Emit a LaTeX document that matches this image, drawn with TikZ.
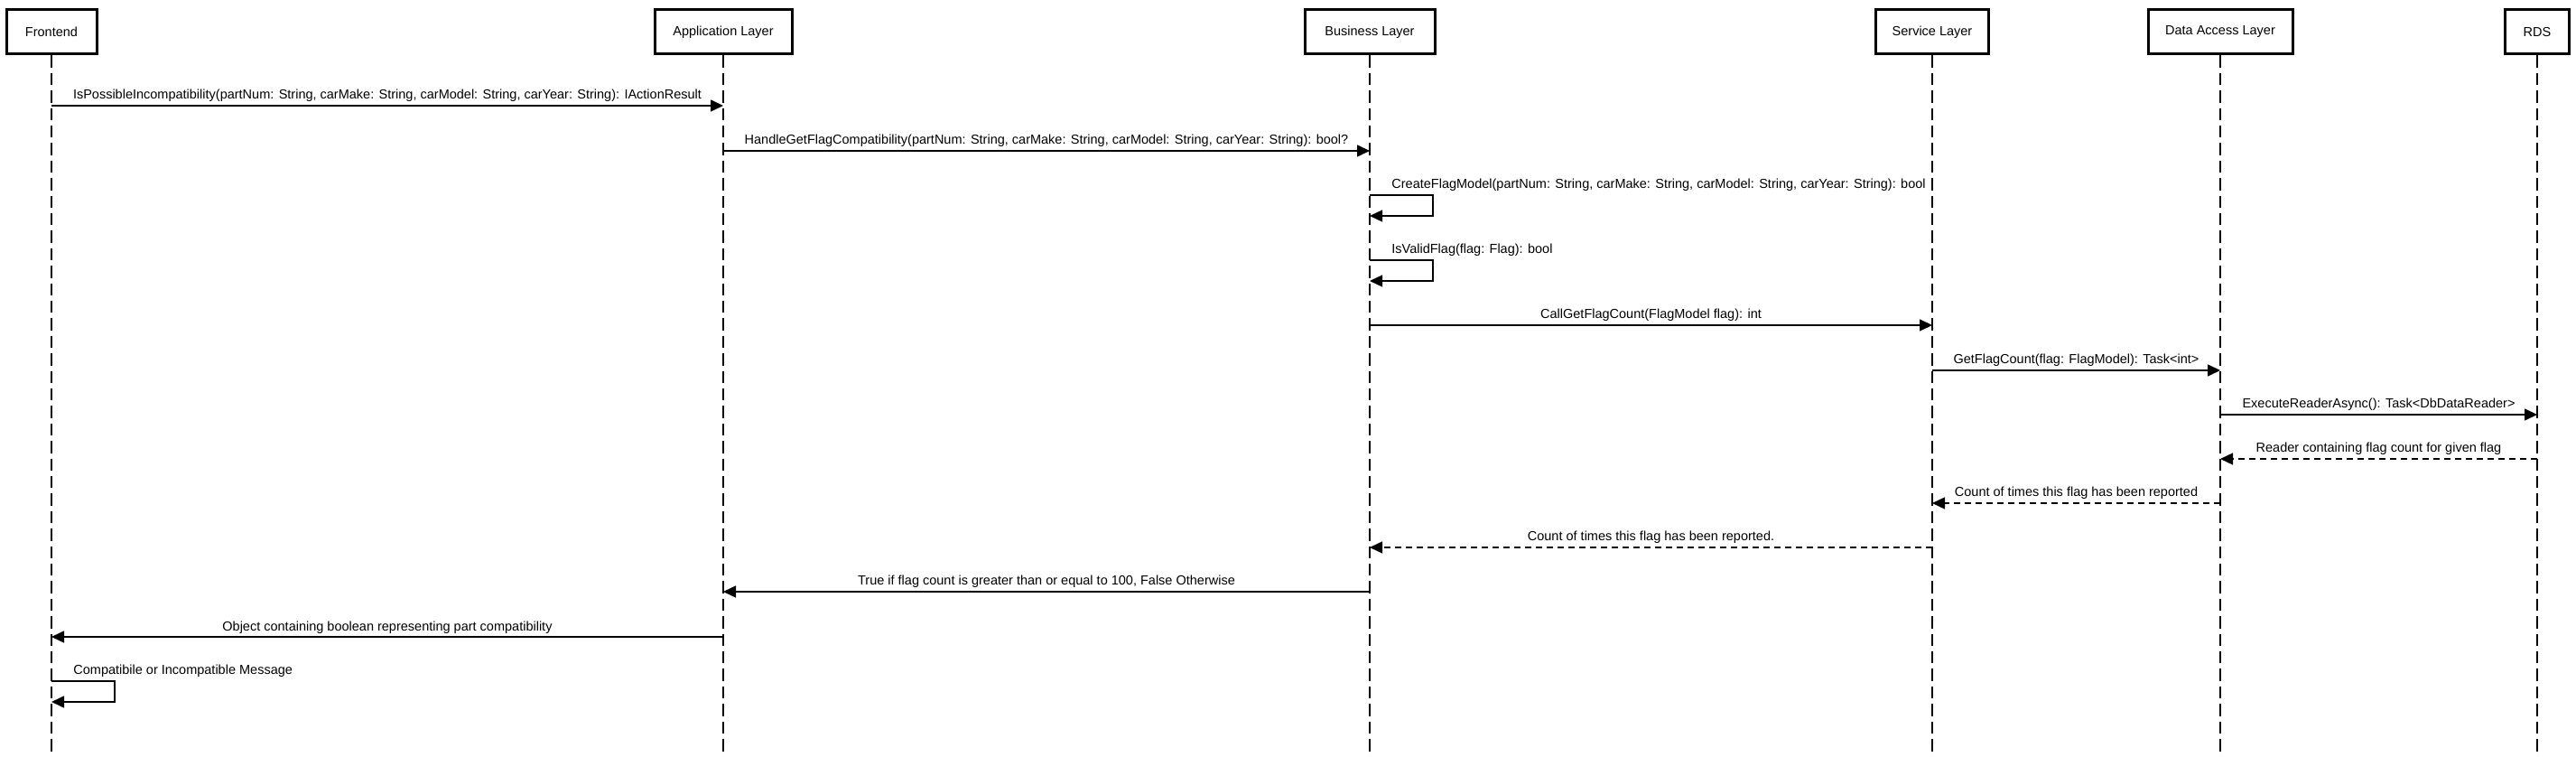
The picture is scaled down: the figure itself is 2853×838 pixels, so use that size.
\documentclass[tikz,border=0pt]{standalone}
\usepackage{fontspec}
\setmainfont{Liberation Sans}
\usetikzlibrary{arrows.meta}
\begin{document}
\begin{tikzpicture}[x=0.5pt,y=-0.5pt,
  txt/.style={font=\fontsize{7.25pt}{8.7pt}\selectfont},
  part/.style={txt, draw, line width=1.5pt, minimum height=24.5pt, inner sep=0pt, fill=white},
  lifeline/.style={line width=0.85pt, dash pattern=on 6.7pt off 3pt},
  msg/.style={line width=0.75pt, -{Triangle[length=7pt,width=6.5pt]}},
  ret/.style={msg, dash pattern=on 3.6pt off 2.4pt},
  lbl/.style={txt, inner sep=0pt},
]
\fill[white] (0,0) rectangle (2853,838);
\useasboundingbox (0,0) rectangle (2853,838);

% participants
\node[part, minimum width=50pt] (fe)  at (57,35.5)   {Frontend};
\node[part, minimum width=76pt] (app) at (801,35.5)  {Application Layer};
\node[part, minimum width=72pt] (bus) at (1517,35.5) {Business Layer};
\node[part, minimum width=62.5pt] (svc) at (2140,35.5) {Service Layer};
\node[part, minimum width=80pt] (dal) at (2459,35.5) {Data Access Layer};
\node[part, minimum width=35.5pt] (rds) at (2810,35.5) {RDS};

% levels
\coordinate (bot) at (0,838);
\coordinate (y1) at (0,117);
\coordinate (y2) at (0,167);
\coordinate (s1t) at (0,216);
\coordinate (s1b) at (0,239);
\coordinate (s2t) at (0,288);
\coordinate (s2b) at (0,311);
\coordinate (y5) at (0,360);
\coordinate (y6) at (0,410);
\coordinate (y7) at (0,459);
\coordinate (y8) at (0,508);
\coordinate (y9) at (0,557);
\coordinate (y10) at (0,606);
\coordinate (y11) at (0,655);
\coordinate (y12) at (0,705);
\coordinate (s3t) at (0,754);
\coordinate (s3b) at (0,777);

% lifelines
\foreach \p in {fe,app,bus,svc,dal,rds}
  \draw[lifeline] (\p.south) -- (\p.center |- bot);

% messages
\draw[msg] (fe.center |- y1) -- (app.center |- y1)
  node[lbl, midway, anchor=base, yshift=3.5pt] {IsPossibleIncompatibility(partNum: String, carMake: String, carModel: String, carYear: String): IActionResult};
\draw[msg] (app.center |- y2) -- (bus.center |- y2)
  node[lbl, midway, anchor=base, yshift=3.5pt] {HandleGetFlagCompatibility(partNum: String, carMake: String, carModel: String, carYear: String): bool?};
\draw[msg] (bus.center |- s1t) -- ++(70,0) |- (bus.center |- s1b);
\node[lbl, anchor=base west, xshift=12pt, yshift=3.5pt] (l3) at (bus.center |- s1t) {CreateFlagModel(partNum: String, carMake: String, carModel: String, carYear: String): bool};
\draw[msg] (bus.center |- s2t) -- ++(70,0) |- (bus.center |- s2b);
\node[lbl, anchor=base west, xshift=12pt, yshift=3.5pt] (l4) at (bus.center |- s2t) {IsValidFlag(flag: Flag): bool};
\draw[msg] (bus.center |- y5) -- (svc.center |- y5)
  node[lbl, midway, anchor=base, yshift=3.5pt] {CallGetFlagCount(FlagModel flag): int};
\draw[msg] (svc.center |- y6) -- (dal.center |- y6)
  node[lbl, midway, anchor=base, yshift=3.5pt] {GetFlagCount(flag: FlagModel): Task<int>};
\draw[msg] (dal.center |- y7) -- (rds.center |- y7)
  node[lbl, midway, anchor=base, yshift=3.5pt] {ExecuteReaderAsync(): Task<DbDataReader>};
\draw[ret] (rds.center |- y8) -- (dal.center |- y8)
  node[lbl, midway, anchor=base, yshift=3.5pt] {Reader containing flag count for given flag};
\draw[ret] (dal.center |- y9) -- (svc.center |- y9)
  node[lbl, midway, anchor=base, yshift=3.5pt] {Count of times this flag has been reported};
\draw[ret] (svc.center |- y10) -- (bus.center |- y10)
  node[lbl, midway, anchor=base, yshift=3.5pt] {Count of times this flag has been reported.};
\draw[msg] (bus.center |- y11) -- (app.center |- y11)
  node[lbl, midway, anchor=base, yshift=3.5pt] {True if flag count is greater than or equal to 100, False Otherwise};
\draw[msg] (app.center |- y12) -- (fe.center |- y12)
  node[lbl, midway, anchor=base, yshift=3.5pt] {Object containing boolean representing part compatibility};
\draw[msg] (fe.center |- s3t) -- ++(70,0) |- (fe.center |- s3b);
\node[lbl, anchor=base west, xshift=12pt, yshift=3.5pt] (l13) at (fe.center |- s3t) {Compatibile or Incompatible Message};
\end{tikzpicture}
\end{document}
